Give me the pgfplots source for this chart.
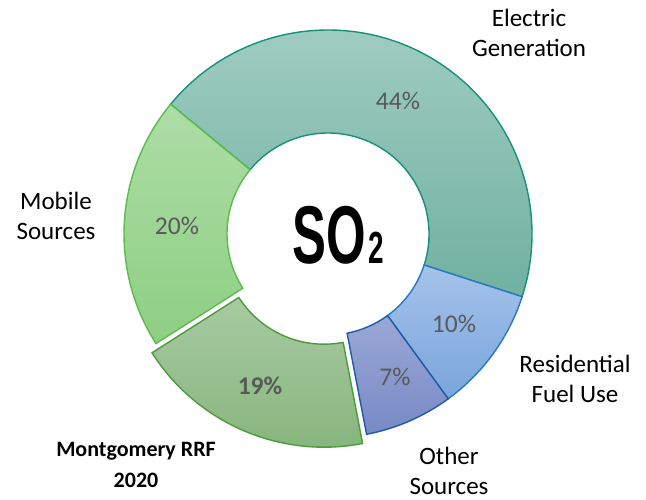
\documentclass[border=0pt]{standalone}
\usepackage{pgfplots}
\pgfplotsset{compat=1.18}
\usepackage{pgfplotstable}
\usepackage{graphicx}
\usepackage{fontspec}
\setmainfont{Carlito}
\newfontfamily\sofont{Liberation Sans}

\definecolor{pctgray}{HTML}{595959}
\definecolor{elecT}{HTML}{A3CEC3}\definecolor{elecB}{HTML}{70B1A1}\definecolor{elecL}{HTML}{16917A}
\definecolor{resT}{HTML}{A5C3EB}\definecolor{resB}{HTML}{79A4DB}\definecolor{resL}{HTML}{2A78C0}
\definecolor{othT}{HTML}{9AA8D6}\definecolor{othB}{HTML}{788AC5}\definecolor{othL}{HTML}{1E5AA8}
\definecolor{monT}{HTML}{A8CAA2}\definecolor{monB}{HTML}{85B47B}\definecolor{monL}{HTML}{4C9B3C}
\definecolor{mobT}{HTML}{AEDDA6}\definecolor{mobB}{HTML}{8DCF83}\definecolor{mobL}{HTML}{5CBB4C}

% SO2 shares, clockwise from the top-left
\pgfplotstableread{
name value
Electric 44
Residential 10
Other 7
Montgomery 19
Mobile 20
}\sotable

\newcommand\getv[2]{\pgfplotstablegetelem{#1}{value}\of\sotable\let#2\pgfplotsretval}

% annular sector: start angle, end angle, shift x, shift y, style
\newcommand\slice[5]{%
  \path[#5] ({328+#3+204*cos(#1)},{265+#4+204*sin(#1)})
    arc[start angle=#1,end angle=#2,radius=204pt]
    -- ({328+#3+101*cos(#2)},{265+#4+101*sin(#2)})
    arc[start angle=#2,end angle=#1,radius=101pt] -- cycle;}

\begin{document}%
\begin{tikzpicture}
\getv{0}\vE\getv{1}\vR\getv{2}\vO\getv{3}\vM\getv{4}\vB
\pgfmathsetmacro\aA{140.5}
\pgfmathsetmacro\aB{\aA-3.6*\vE}
\pgfmathsetmacro\aC{\aB-3.6*\vR}
\pgfmathsetmacro\aD{\aC-3.6*\vO}
\pgfmathsetmacro\aF{\aD-3.6*\vM}
\pgfmathsetmacro\aG{\aF-3.6*\vB}
\pgfmathsetmacro\mx{10*cos((\aD+\aF)/2)}
\pgfmathsetmacro\my{10*sin((\aD+\aF)/2)}
\begin{axis}[x=1pt,y=1pt,xmin=0,xmax=646,ymin=0,ymax=499,hide axis,clip=false]
\slice{\aA}{\aB}{0}{0}{top color=elecT,bottom color=elecB,draw=elecL,line width=1.4pt}
\slice{\aB}{\aC}{0}{0}{top color=resT,bottom color=resB,draw=resL,line width=1.4pt}
\slice{\aC}{\aD}{0}{0}{top color=othT,bottom color=othB,draw=othL,line width=1.4pt}
\slice{\aD}{\aF}{\mx}{\my}{top color=monT,bottom color=monB,draw=monL,line width=1.4pt}
\slice{\aF}{\aG}{0}{0}{top color=mobT,bottom color=mobB,draw=mobL,line width=1.4pt}

\begin{scope}[every node/.style={text=pctgray,font=\fontsize{25.5}{30}\selectfont}]
\node at (398,398) {44\%};
\node at (454,175) {10\%};
\node at (395,122) {7\%};
\node[font=\fontsize{25.5}{30}\selectfont\bfseries] at (260,113) {19\%};
\node at (177,273) {20\%};
\end{scope}

\begin{scope}[every node/.style={align=center,font=\fontsize{25}{30}\selectfont}]
\node at (529,466) {Electric\\Generation};
\node at (575,120) {Residential\\Fuel Use};
\node at (449,28) {Other\\Sources};
\node at (56,283) {Mobile\\Sources};
\node[font=\fontsize{22}{31}\selectfont\bfseries] at (136,34) {Montgomery RRF\\2020};
\end{scope}

\node[anchor=base west,inner sep=0pt] at (292,236)
  {\sofont\bfseries\scalebox{0.62}[1]{\fontsize{82}{82}\selectfont SO}\kern3pt\scalebox{0.62}[1]{\fontsize{45}{45}\selectfont 2}};
\end{axis}
\pgfresetboundingbox
\useasboundingbox (current axis.south west) rectangle (current axis.north east);
\end{tikzpicture}%
\end{document}
